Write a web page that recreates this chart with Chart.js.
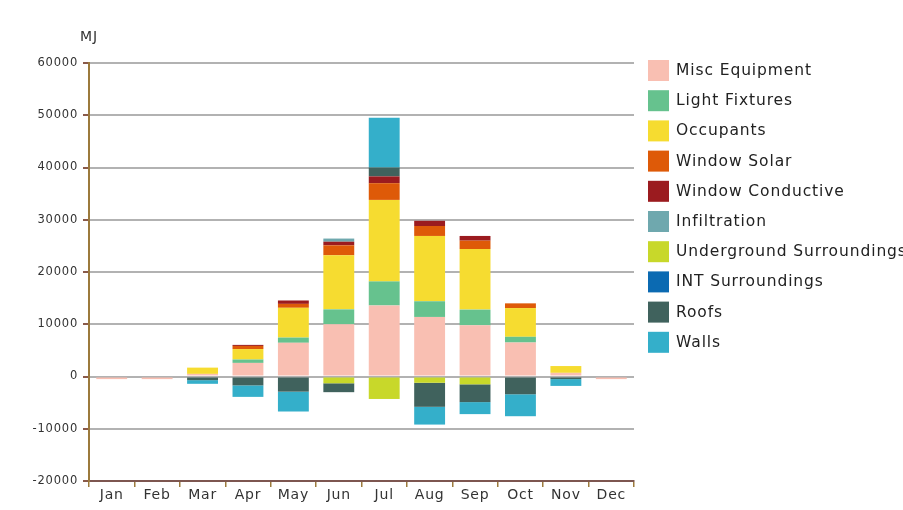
<!DOCTYPE html>
<html lang="en">
<head>
<meta charset="UTF-8">
<title>Monthly heat balance</title>
<script src="https://cdn.jsdelivr.net/npm/chart.js@4.4.1/dist/chart.umd.min.js"></script>
<style>
  html,body{margin:0;padding:0;background:#fff;overflow:hidden;}
  #wrap{width:903px;height:510px;position:relative;}
</style>
</head>
<body>
<div id="wrap"><canvas id="c" width="903" height="510"></canvas></div>
<script>
// values in MJ, one array per component
const months = ['Jan','Feb','Mar','Apr','May','Jun','Jul','Aug','Sep','Oct','Nov','Dec'];
const yTicks = [-20000,-10000,0,10000,20000,30000,40000,50000,60000];

const miscEquipment   = [-500,-500, 500, 2600, 6450,10000,13600,11400, 9800, 6500, 700,-500];
const lightFixtures   = [   0,   0,   0,  650, 1000, 2850, 4600, 3000, 3000, 1100,   0,   0];
const occupants       = [   0,   0,1200, 2000, 5700,10350,15600,12500,11600, 5500,1300,   0];
const windowSolar     = [   0,   0,   0,  600,  750, 1900, 3200, 1900, 1600,  900,   0,   0];
const windowCond      = [   0,   0,   0,  200,  650,  700, 1300, 1000,  900,    0,   0,   0];
const infiltration    = [   0,   0,   0,    0,    0,  600,    0,    0,    0,    0,   0,   0];
const underground     = [   0,   0,   0,    0,    0,-1300,-4300,-1200,-1500,    0,   0,   0];
const intSurroundings = [   0,   0,   0,    0,    0,    0,    0,    0,    0,    0,   0,   0];
const roofs           = [   0,   0,-700,-1700,-2900,-1700, 1700,-4600,-3400,-3400,-500,   0];
const walls           = [   0,   0,-700,-2200,-3800,    0, 9500,-3400,-2300,-4200,-1300,  0];

const series = [
  ['Misc Equipment', miscEquipment, '#f9bfb2'],
  ['Light Fixtures', lightFixtures, '#66c28e'],
  ['Occupants', occupants, '#f6dc30'],
  ['Window Solar', windowSolar, '#de5a08'],
  ['Window Conductive', windowCond, '#9b1b1f'],
  ['Infiltration', infiltration, '#6fa8ae'],
  ['Underground Surroundings', underground, '#c8d82a'],
  ['INT Surroundings', intSurroundings, '#0b6ab2'],
  ['Roofs', roofs, '#40625d'],
  ['Walls', walls, '#34afca']
];

const FONT = 'DejaVu Sans';

// legend drawn at the right side, text may run past the canvas edge
const sideLegend = {
  id: 'sideLegend',
  beforeLayout(chart){ chart.ctx.letterSpacing = '0.8px'; },
  beforeDraw(chart){ chart.ctx.letterSpacing = '0.8px'; },
  afterDraw(chart){
    const ctx = chart.ctx, area = chart.chartArea;
    ctx.save();
    ctx.letterSpacing = '0.9px';
    ctx.font = '15.5px "' + FONT + '"';
    ctx.textBaseline = 'middle';
    chart.data.datasets.forEach((ds, i) => {
      const y = 60 + i * 30.2;
      ctx.fillStyle = ds.backgroundColor;
      ctx.fillRect(648, y, 21, 21);
      ctx.fillStyle = '#222';
      ctx.fillText(ds.label, 676, y + 11);
    });
    // unit label above the value axis
    ctx.letterSpacing = '1px';
    ctx.font = '14px "' + FONT + '"';
    ctx.textAlign = 'center';
    ctx.fillStyle = '#333';
    ctx.fillText('MJ', area.left, 37);
    ctx.restore();
  }
};

new Chart(document.getElementById('c'), {
  type: 'bar',
  data: {
    labels: months,
    datasets: series.map(([label, data, color]) => ({
      label, data, backgroundColor: color, borderWidth: 0,
      barPercentage: 0.68, categoryPercentage: 1
    }))
  },
  options: {
    responsive: false,
    animation: false,
    layout: { padding: { top: 63, right: 269, bottom: 0, left: 0 } },
    plugins: { legend: { display: false }, tooltip: { enabled: false } },
    scales: {
      x: {
        stacked: true,
        afterFit: s => { s.height = 29; },
        grid: { display: true, drawOnChartArea: false, drawTicks: true, tickLength: 6, color: '#9c7a3c', lineWidth: 1.5 },
        border: { color: '#7d5650', width: 2 },
        ticks: { color: '#333', padding: 0, font: { family: FONT, size: 14 } }
      },
      y: {
        stacked: true,
        min: -20000, max: 60000,
        afterFit: s => { s.width = 89; },
        afterBuildTicks: s => { s.ticks = yTicks.map(v => ({ value: v })); },
        grid: { color: '#b2b2b2', lineWidth: 2, tickColor: '#8a5a4a', tickLength: 6 },
        border: { color: '#9c7a3c', width: 2 },
        ticks: { color: '#333', padding: 5, font: { family: FONT, size: 11.5 }, callback: v => String(v) }
      }
    }
  },
  plugins: [sideLegend]
});
</script>
</body>
</html>
